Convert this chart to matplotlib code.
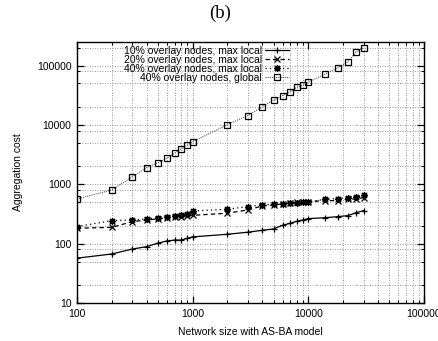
import numpy as np
import matplotlib.pyplot as plt
from matplotlib.ticker import FixedLocator, NullFormatter

plt.rcParams['font.family'] = ['Liberation Sans', 'DejaVu Sans']

# network sizes (AS-BA model)
sizes = [100, 200, 300, 400, 500, 600, 700, 800, 900, 1000,
         2000, 3000, 4000, 5000, 6000, 7000, 8000, 9000, 10000,
         14000, 18000, 22000, 26000, 30000]

# aggregation cost per series
local10 = [57, 67, 81, 89, 102, 111, 115, 115, 123, 130,
           144, 156, 168, 177, 204, 221, 239, 251, 264,
           274, 285, 297, 333, 360]
local20 = [182, 188, 235, 250, 262, 270, 278, 285, 295, 300,
           326, 370, 432, 450, 467, 486, 499, 505, 511,
           531, 531, 561, 568, 597]
local40 = [194, 244, 251, 261, 271, 282, 290, 301, 317, 356,
           380, 421, 450, 462, 473, 486, 491, 499, 505,
           561, 574, 597, 621, 655]
global40 = [567, 805, 1333, 1914, 2296, 2756, 3345, 4000, 4563, 5190,
            10160, 14420, 20200, 26200, 31300, 36600, 43400, 46900, 52700,
            71900, 91800, 115900, 171000, 199500]

labels = ['10% overlay nodes, max local', '20% overlay nodes, max local',
          '40% overlay nodes, max local', '40% overlay nodes, global']

fig = plt.figure(figsize=(4.39, 3.41), dpi=100)
ax = fig.add_axes([77/439, 1-303/341, (424-77)/439, (303-42)/341])

ax.plot(sizes, local10, color='black', lw=0.9, ls='-', marker='+', ms=5, mew=0.9, label=labels[0])
ax.plot(sizes, local20, color='black', lw=0.9, ls=(0, (3.5, 2.5)), marker='x', ms=4, mew=0.9, label=labels[1])
ax.plot(sizes, local40, color='black', lw=0.9, ls=(0, (1, 2.5)), marker=(8, 2, 0), ms=5, mew=0.9, label=labels[2])
ax.plot(sizes, global40, color='#333333', lw=0.7, ls=(0, (1, 1.2)), marker='s', ms=5, mew=0.9,
        mfc='none', mec='black', label=labels[3])

ax.set_xscale('log')
ax.set_yscale('log')
ax.set_xlim(100, 100000)
ax.set_ylim(10, 2.5e5)

ax.xaxis.set_major_locator(FixedLocator([100, 1000, 10000, 100000]))
ax.xaxis.set_minor_locator(FixedLocator([m*d for d in [100, 1000, 10000] for m in range(2, 10)]))
ax.yaxis.set_major_locator(FixedLocator([10, 100, 1000, 10000, 100000]))
ax.yaxis.set_minor_locator(FixedLocator([m*d for d in [10, 100, 1000, 10000, 100000] for m in (2, 5, 8)]))
ax.set_xticklabels(['100', '1000', '10000', '100000'])
ax.set_yticklabels(['10', '100', '1000', '10000', '100000'])
ax.xaxis.set_minor_formatter(NullFormatter())
ax.yaxis.set_minor_formatter(NullFormatter())

ax.tick_params(which='both', direction='in', top=True, right=True, labelsize=7.5, pad=4)
ax.tick_params(which='major', length=5, width=0.9)
ax.tick_params(which='minor', length=2.5, width=0.7)
ax.grid(True, which='both', color='#777777', lw=0.6, ls=(0, (1, 2)))
for s in ax.spines.values():
    s.set_linewidth(1.0)

ax.set_xlabel('Network size with AS-BA model', fontsize=7.5, labelpad=6)
ax.set_ylabel('Aggregation cost', fontsize=7.5, labelpad=10)

leg = ax.legend(loc='upper right', bbox_to_anchor=(289/439, 1-46/341), bbox_transform=fig.transFigure,
                frameon=False, fontsize=7.5, markerfirst=False, handlelength=2.3, handletextpad=0.3,
                labelspacing=-0.1, borderpad=0, borderaxespad=0)
# right-align the legend entries like gnuplot does
for col in leg._legend_handle_box.get_children():
    col.align = 'right'

fig.text(220/439, 1-13/341, '(b)', ha='center', va='center', fontsize=13.5,
         family=['Liberation Serif', 'DejaVu Serif'])

fig.savefig('out.png', dpi=100)
